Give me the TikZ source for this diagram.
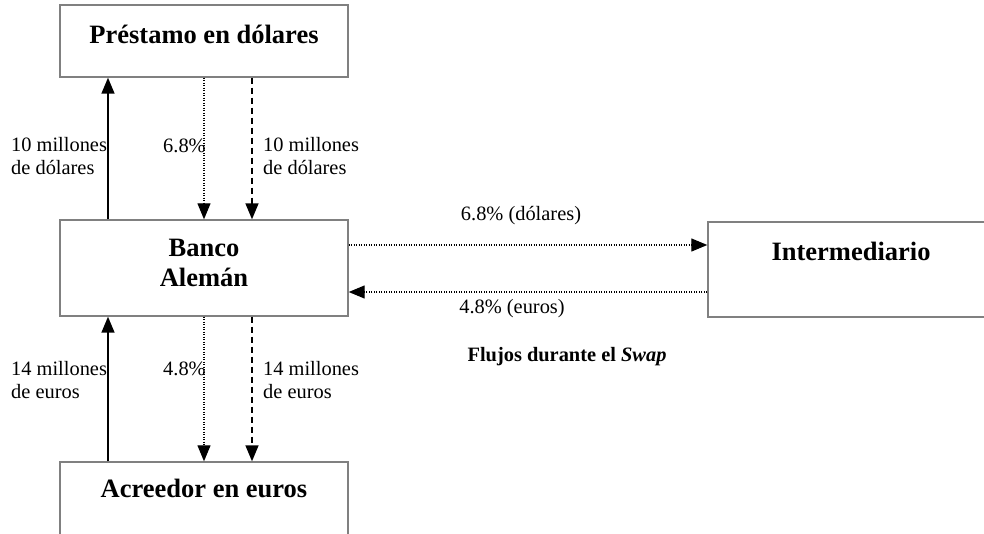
\documentclass[tikz,border=0pt]{standalone}
\usepackage{fontspec}
\setmainfont{Liberation Serif}
\usetikzlibrary{arrows.meta}
\begin{document}
\begin{tikzpicture}[x=1pt,y=-1pt,
  box/.style={draw=black!50,line width=1.4pt,rectangle,inner sep=0pt},
  big/.style={font=\fontsize{26.5}{30}\selectfont\bfseries,align=center,inner sep=0pt},
  lbl/.style={font=\fontsize{20.4}{23}\selectfont,align=left,inner sep=0pt},
  flow/.style={line width=1.5pt,-{Triangle[length=16pt,width=13pt]}},
  solidflow/.style={flow},
  dotflow/.style={flow,line width=1.2pt,dash pattern=on 1.2pt off 1.3pt},
  dashflow/.style={flow,dash pattern=on 6pt off 4pt}]
\useasboundingbox (0,0) rectangle (984,533);
\clip (0,0) rectangle (984,533);
% boxes
\node[box,minimum width=288pt,minimum height=72pt] (pres) at (204,41) {};
\node[box,minimum width=288pt,minimum height=96pt] (banco) at (204,268) {};
\node[box,minimum width=288pt,minimum height=90pt] (acre) at (204,507) {};
\node[box,minimum width=300pt,minimum height=95pt] (inter) at (858,269.5) {};
% box texts
\node[big] (tpres) at (204,34) {Préstamo en dólares};
\node[big] (tbanco) at (204,263) {Banco\\Alemán};
\node[big] (tacre) at (204,488) {Acreedor en euros};
\node[big] (tinter) at (851,251) {Intermediario};
% column coordinates
\coordinate (xL) at (108,0);
\coordinate (xM) at (204,0);
\coordinate (xR) at (252,0);
\coordinate (yU) at (0,245);
\coordinate (yD) at (0,292);
% upper arrows
\draw[solidflow] (banco.north -| xL) -- (pres.south -| xL);
\draw[dotflow] (pres.south -| xM) -- (banco.north -| xM);
\draw[dashflow] (pres.south -| xR) -- (banco.north -| xR);
% lower arrows
\draw[solidflow] (acre.north -| xL) -- (banco.south -| xL);
\draw[dotflow] (banco.south -| xM) -- (acre.north -| xM);
\draw[dashflow] (banco.south -| xR) -- (acre.north -| xR);
% horizontal arrows
\draw[dotflow] (banco.east |- yU) -- (inter.west |- yU);
\draw[dotflow] (inter.west |- yD) -- (banco.east |- yD);
% labels
\node[lbl,anchor=west] (l1) at (11,156) {10 millones\\de dólares};
\node[lbl,anchor=west] (l2) at (163,146) {6.8\%};
\node[lbl,anchor=west] (l3) at (263,156) {10 millones\\de dólares};
\node[lbl,anchor=west] (l4) at (11,380) {14 millones\\de euros};
\node[lbl,anchor=west] (l5) at (163,369) {4.8\%};
\node[lbl,anchor=west] (l6) at (263,380) {14 millones\\de euros};
\node[lbl] (l7) at (521,216) {6.8\% (dólares)};
\node[lbl] (l8) at (512,309) {4.8\% (euros)};
\node[lbl,font=\fontsize{20.4}{23}\selectfont\bfseries] (l9) at (567,357) {Flujos durante el \textit{Swap}};
\end{tikzpicture}
\end{document}
